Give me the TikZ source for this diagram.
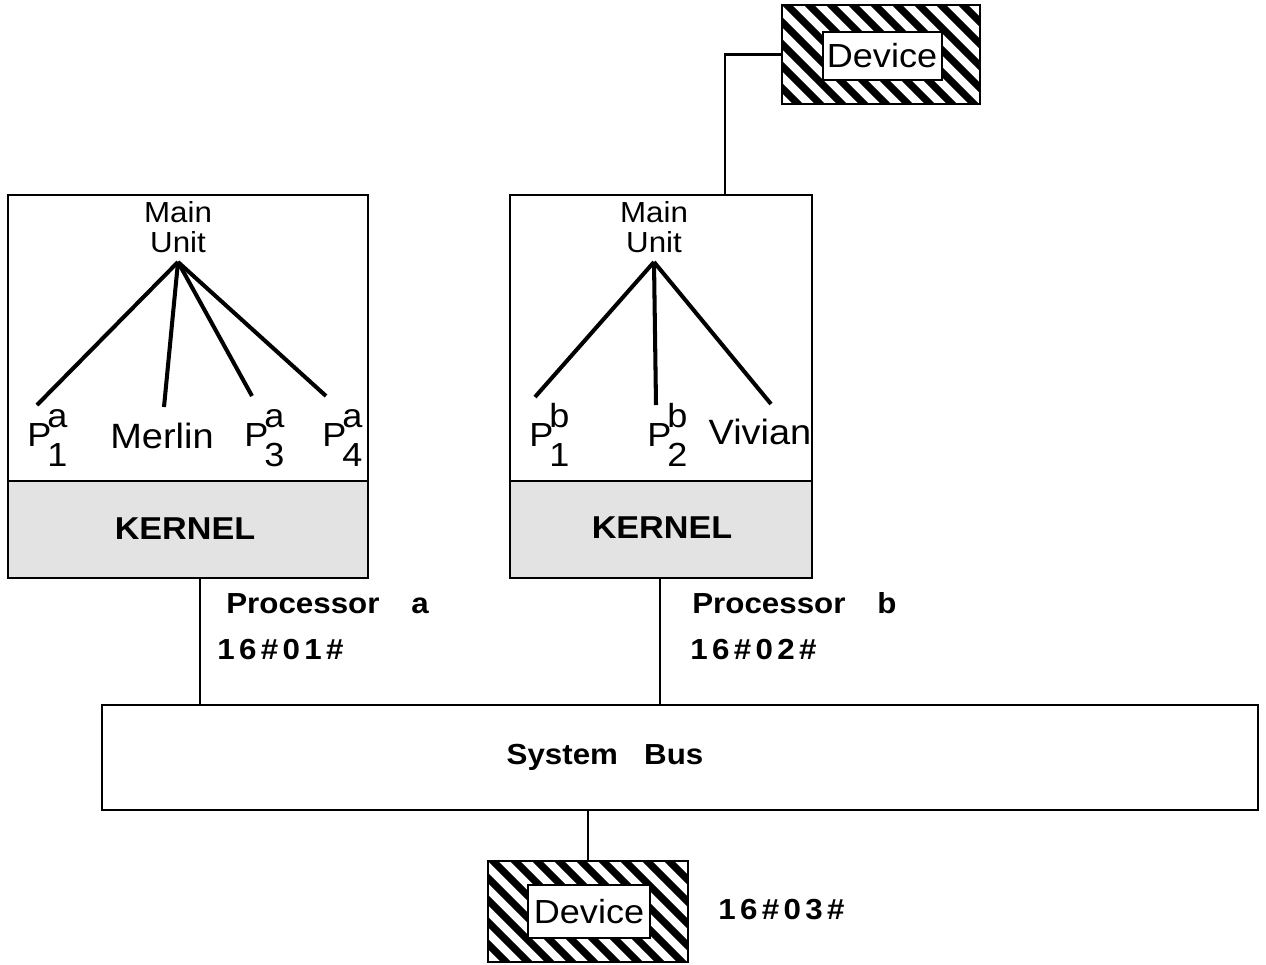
\documentclass[tikz,border=0pt]{standalone}
\usepackage{fontspec}
\setmainfont[FakeStretch=1.08]{Liberation Sans}
\newfontfamily\spacedfont[LetterSpace=15,FakeStretch=1.08]{Liberation Sans}
\usetikzlibrary{fit}
\newcommand\myhatch[8]{%
  \begin{scope}[even odd rule]
    \clip (#1,#2) rectangle (#3,#4) (#5,#6) rectangle (#7,#8);
    \foreach \k in {-132,-110,...,220} \draw[line width=4.2pt] (#1+\k,#2-5) -- ++(130,130);
  \end{scope}
  \draw[line width=1.2pt] (#5,#6) rectangle (#7,#8);}
\newcommand\psub[2]{P\kern-0.12em\rlap{\raisebox{0.55em}{#1}}\raisebox{-0.6em}{#2}}
\begin{document}
\begin{tikzpicture}[x=0.02cm,y=-0.02cm,
  box/.style={draw, line width=1.6pt, inner sep=0pt},
  kbox/.style={draw, line width=1.6pt, inner sep=0pt, fill=black!11},
  lbl/.style={font=\fontsize{19}{22}\selectfont, inner sep=0pt},
  mlbl/.style={font=\fontsize{16.5}{18}\selectfont, inner sep=0pt, anchor=base},
  nlbl/.style={font=\fontsize{20}{22}\selectfont, inner sep=0pt},
  blbl/.style={font=\fontsize{16.5}{20}\selectfont\bfseries, inner sep=0pt},
  klbl/.style={font=\fontsize{18}{20}\selectfont\bfseries, inner sep=0pt},
  tree/.style={line width=2.3pt},
  wire/.style={line width=1.6pt}]
\useasboundingbox (0,0) rectangle (1266,964);

% processor a
\node[kbox, fit={(8,481)(368,578)}] (ka) {};
\node[box, fit={(8,195)(368,578)}] (pa) {};
\node[klbl] (kta) at (185,529) {KERNEL};
\node[mlbl] (maina) at (178,222) {Main};
\node[mlbl] (unita) at (178,252) {Unit};
\coordinate (ra) at (178,262);
\coordinate (ea1) at (37,405);
\coordinate (ea2) at (164,407);
\coordinate (ea3) at (252,396);
\coordinate (ea4) at (326,396);
\draw[tree] (ra) -- (ea1);
\draw[tree] (ra) -- (ea2);
\draw[tree] (ra) -- (ea3);
\draw[tree] (ra) -- (ea4);
\node[lbl, anchor=base west] (pa1) at (27,446) {\psub{a}{1}};
\node[nlbl] (merlin) at (162,436) {Merlin};
\node[lbl, anchor=base west] (pa3) at (244,446) {\psub{a}{3}};
\node[lbl, anchor=base west] (pa4) at (322,446) {\psub{a}{4}};

% processor b
\node[kbox, fit={(510,481)(812,578)}] (kb) {};
\node[box, fit={(510,195)(812,578)}] (pb) {};
\node[klbl] (ktb) at (662,528) {KERNEL};
\node[mlbl] (mainb) at (654,222) {Main};
\node[mlbl] (unitb) at (654,252) {Unit};
\coordinate (rb) at (654,262);
\coordinate (eb1) at (535,397);
\coordinate (eb2) at (656,405);
\coordinate (eb3) at (771,404);
\draw[tree] (rb) -- (eb1);
\draw[tree] (rb) -- (eb2);
\draw[tree] (rb) -- (eb3);
\node[lbl, anchor=base west] (pb1) at (529,446) {\psub{b}{1}};
\node[lbl, anchor=base west] (pb2) at (647,446) {\psub{b}{2}};
\node[nlbl] (vivian) at (760,432) {Vivian};

% labels
\node[blbl, anchor=base west] (proca) at (226,613) {Processor\hspace{1.1em}a};
\node[blbl, anchor=base west] (ida) at (217,659) {\spacedfont 16\#01\#};
\node[blbl, anchor=base west] (procb) at (692,613) {Processor\hspace{1.1em}b};
\node[blbl, anchor=base west] (idb) at (690,659) {\spacedfont 16\#02\#};

% system bus
\node[box, fit={(102,705)(1258,810)}] (bus) {};
\node[blbl] (bustxt) at (605,757) {System\hspace{0.9em}Bus};
\coordinate (ca) at (200,578);
\coordinate (cb) at (660,578);
\draw[wire] (ca) -- (ca |- bus.north);
\draw[wire] (cb) -- (cb |- bus.north);

% top device
\myhatch{782}{5}{980}{104}{823}{32}{942}{80}
\node[box, fit={(782,5)(980,104)}] (devt) {};
\node[lbl] (devttxt) at (882,56) {Device};
\coordinate (cpb) at (725,195);
\draw[wire] (devt.west) -| (cpb);

% bottom device
\myhatch{488}{861}{688}{962}{528}{885}{650}{938}
\node[box, fit={(488,861)(688,962)}] (devb) {};
\node[lbl] (devbtxt) at (589,912) {Device};
\coordinate (cbus) at (588,810);
\draw[wire] (cbus) -- (cbus |- devb.north);
\node[blbl, anchor=base west] (idc) at (718,919) {\spacedfont 16\#03\#};
\end{tikzpicture}
\end{document}
